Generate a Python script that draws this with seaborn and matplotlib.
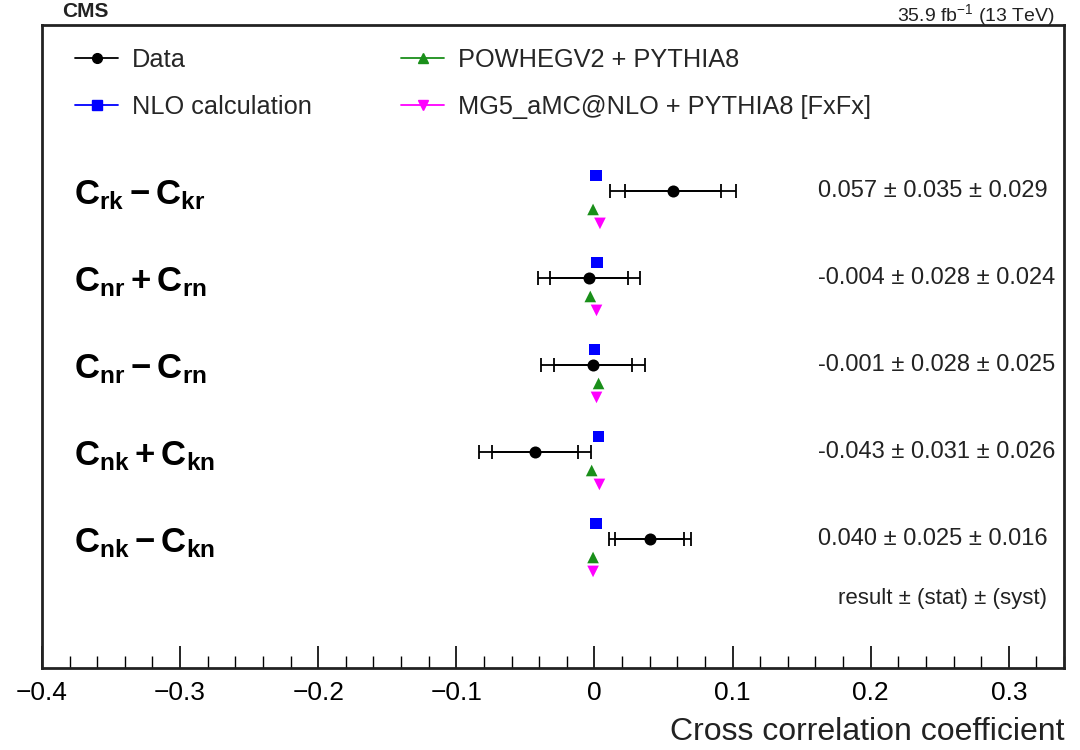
import numpy as np
import pandas as pd
import matplotlib
matplotlib.use("Agg")
import matplotlib.pyplot as plt
import seaborn as sns
from matplotlib.lines import Line2D
from matplotlib.ticker import MultipleLocator, FuncFormatter
import matplotlib.transforms as mtransforms

# ---------------- data ----------------
observables = [r"$C_{rk} - C_{kr}$", r"$C_{nr} + C_{rn}$", r"$C_{nr} - C_{rn}$",
               r"$C_{nk} + C_{kn}$", r"$C_{nk} - C_{kn}$"]
data_values = [0.057, -0.004, -0.001, -0.043, 0.040]
stat_errors = [0.035, 0.028, 0.028, 0.031, 0.025]
syst_errors = [0.029, 0.024, 0.025, 0.026, 0.016]
nlo_values = [0.001, 0.002, 0.000, 0.003, 0.001]
powheg_values = [-0.001, -0.003, 0.003, -0.002, -0.001]
mg5_values = [0.004, 0.0015, 0.0015, 0.0036, -0.001]
model_names = ["NLO calculation", "POWHEGV2 + PYTHIA8", "MG5_aMC@NLO + PYTHIA8 [FxFx]"]
xtick_values = [-0.4, -0.3, -0.2, -0.1, 0.0, 0.1, 0.2, 0.3]

# ---------------- style ----------------
sns.set_theme(style="white")
plt.rcParams['font.family'] = ['Liberation Sans', 'DejaVu Sans']
plt.rcParams['mathtext.fontset'] = 'custom'
plt.rcParams['mathtext.rm'] = 'Liberation Sans'
plt.rcParams['mathtext.bf'] = 'Liberation Sans:bold'
plt.rcParams['mathtext.it'] = 'Liberation Sans:italic'
plt.rcParams['mathtext.default'] = 'bf'

colors = {model_names[0]: "#0000ff", model_names[1]: "#1a8f1a", model_names[2]: "#ff00ff"}
markers = {model_names[0]: "s", model_names[1]: "^", model_names[2]: "v"}
offsets = {model_names[0]: -0.18, model_names[1]: 0.21, model_names[2]: 0.37}

fig = plt.figure(figsize=(10.8, 7.5), dpi=100)
ax = fig.add_axes([42 / 1080, 1 - 668 / 750, (1064 - 42) / 1080, (668 - 25) / 750])

rows = np.arange(len(observables))
data_arr = np.array(data_values)
stat_arr = np.array(stat_errors)
tot_arr = np.sqrt(stat_arr ** 2 + np.array(syst_errors) ** 2)

# model predictions via seaborn
pred_df = pd.DataFrame({
    "x": nlo_values + powheg_values + mg5_values,
    "row": list(rows) * 3,
    "model": [model_names[0]] * 5 + [model_names[1]] * 5 + [model_names[2]] * 5,
})
pred_df["y"] = pred_df["row"] + pred_df["model"].map(offsets)
sns.scatterplot(data=pred_df, x="x", y="y", hue="model", style="model",
                palette=colors, markers=markers, s=70, linewidth=0,
                legend=False, ax=ax, zorder=3)

# data with stat and total error bars
ax.errorbar(data_arr, rows, xerr=tot_arr, fmt="none", ecolor="black",
            elinewidth=1.3, capsize=5, capthick=1.3, zorder=2)
ax.errorbar(data_arr, rows, xerr=stat_arr, fmt="none", ecolor="black",
            elinewidth=1.3, capsize=5, capthick=1.3, zorder=2)
sns.scatterplot(x=data_arr, y=rows, color="black", marker="o", s=75,
                linewidth=0, ax=ax, zorder=4, legend=False)

ax.set_xlim(-0.4, 0.34)
ax.set_ylim(5.48, -1.91)
ax.set_xlabel("")
ax.set_ylabel("")
ax.set_yticks([])

# observable labels and result texts
lab_trans = mtransforms.blended_transform_factory(ax.transAxes, ax.transData)
for i, lab in enumerate(observables):
    ax.text(0.031, i + 0.05, lab, transform=lab_trans, ha="left", va="center",
            fontsize=25, color="black")
    ax.text(0.162, i, f"{data_values[i]:.3f} \u00b1 {stat_errors[i]:.3f} \u00b1 {syst_errors[i]:.3f}",
            ha="left", va="center", fontsize=17, color="#222222")
ax.text(0.176, 4.68, "result \u00b1 (stat) \u00b1 (syst)", ha="left", va="center",
        fontsize=16, color="#222222")

# axis ticks
ax.set_xticks(xtick_values)
ax.xaxis.set_minor_locator(MultipleLocator(0.02))
ax.xaxis.set_major_formatter(FuncFormatter(
    lambda v, p: "0" if abs(v) < 1e-9 else f"{v:.1f}".replace("-", "\u2212")))
ax.tick_params(axis="x", which="major", direction="in", length=16, width=1.2,
               labelsize=19, pad=9, bottom=True, top=False, colors="black")
ax.tick_params(axis="x", which="minor", direction="in", length=8.5, width=1.0,
               bottom=True, top=False, colors="black")
ax.set_xlabel("Cross correlation coefficient", loc="right", fontsize=23,
              labelpad=9, color="#222222")

for side in ["left", "right", "top", "bottom"]:
    ax.spines[side].set_visible(True)
    ax.spines[side].set_color("#222222")
    ax.spines[side].set_linewidth(2)

# legend
handles = [
    Line2D([], [], color="black", marker="o", markersize=7, lw=1.3),
    Line2D([], [], color=colors[model_names[0]], marker="s", markersize=7, lw=1.3),
    Line2D([], [], color=colors[model_names[1]], marker="^", markersize=7, lw=1.3),
    Line2D([], [], color=colors[model_names[2]], marker="v", markersize=7, lw=1.3),
]
labels = ["Data", model_names[0], model_names[1], model_names[2]]
fig.legend(handles, labels, ncol=2, loc="upper left",
           bbox_to_anchor=(75 / 1080, 1 - 48 / 750), frameon=False,
           fontsize=18.3, handlelength=1.7, handletextpad=0.55,
           columnspacing=3.5, labelspacing=0.9, borderpad=0, borderaxespad=0)

# header texts above the frame
fig.text(1055 / 1080, 1 - 2 / 750, r"35.9 fb$^{\mathrm{-1}}$ (13 TeV)", ha="right",
         va="top", fontsize=14, color="#222222")
fig.text(62 / 1080, 1 - 2 / 750, "CMS", ha="left", va="top", fontsize=15,
         fontweight="bold", color="#222222")

fig.savefig("out.png", dpi=100)
